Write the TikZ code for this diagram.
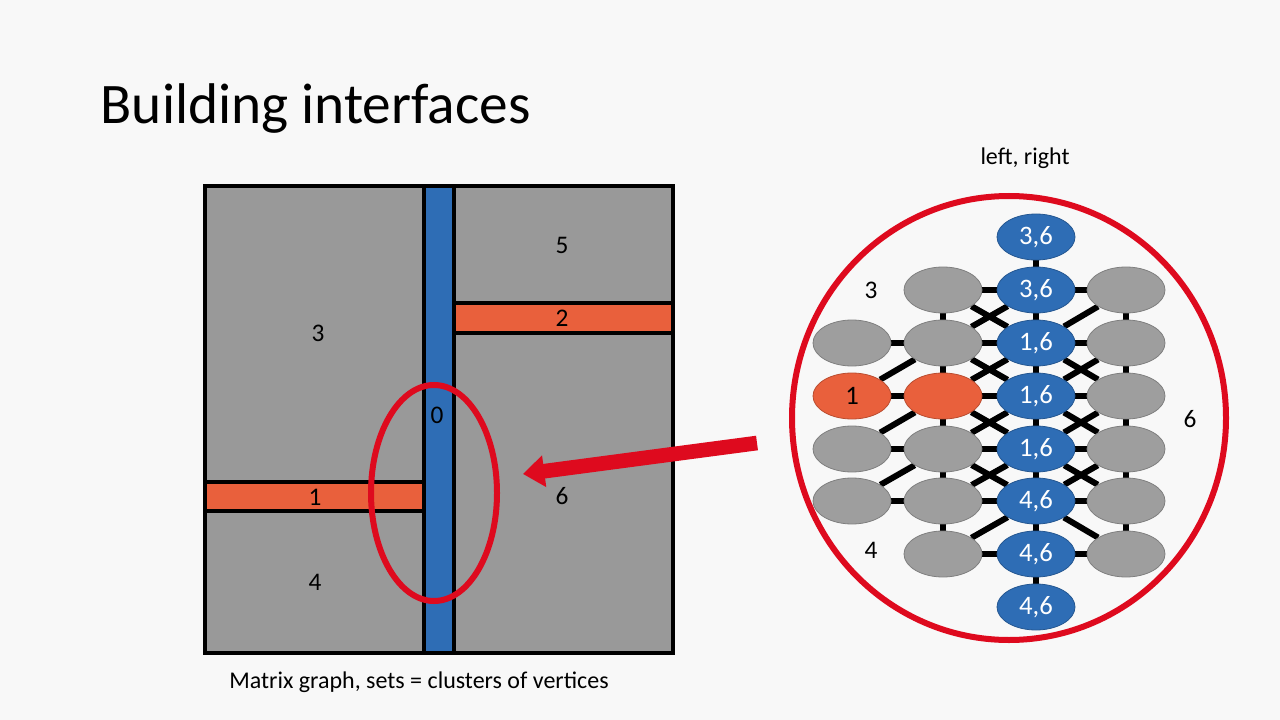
\documentclass[tikz,border=0pt]{standalone}
\usepackage{fontspec}
\setmainfont{Carlito}
\usetikzlibrary{shapes.geometric,arrows.meta,backgrounds}
\definecolor{slidebg}{HTML}{F8F8F8}
\definecolor{regiongray}{HTML}{999999}
\definecolor{nodegray}{HTML}{9E9E9E}
\definecolor{nodeline}{HTML}{7F7F7F}
\definecolor{setblue}{HTML}{2E6DB5}
\definecolor{setorange}{HTML}{E9603C}
\definecolor{markred}{HTML}{DE0A1E}
\pgfdeclarelayer{edges}
\pgfsetlayers{background,edges,main}

\begin{document}
\begin{tikzpicture}[
    x=0.75pt, y=-0.75pt,
    title/.style={font=\fontsize{43}{47}\selectfont, anchor=base west},
    caption/.style={font=\fontsize{18}{21}\selectfont},
    region/.style={font=\fontsize{19}{21}\selectfont},
    vert/.style={ellipse, draw=nodeline, line width=0.6pt, minimum width=58.5pt,
                 minimum height=34.5pt, inner sep=0pt, font=\fontsize{20}{22}\selectfont},
    grayv/.style={vert, fill=nodegray},
    bluev/.style={vert, fill=setblue, draw=setblue!80!black, text=white},
    orangev/.style={vert, fill=setorange, draw=setorange!80!black},
    edge/.style={line width=4.5pt, black},
    wall/.style={draw=black, line width=3pt},
    ring/.style={draw=markred, line width=4.5pt},
    bigarrow/.style={draw=markred, line width=11pt,
                     -{Triangle[length=16pt, width=23pt]}}
]

% --- slide ---
\useasboundingbox (0,0) rectangle (1280,720);
\begin{scope}[on background layer]
  \fill[slidebg] (0,0) rectangle (1280,720);
\end{scope}

\node[title] (title) at (96,124) {Building interfaces};

% --- matrix partition ---
\fill[regiongray] (205,186) rectangle (673,653);
\path[wall, fill=setorange] (454,303) rectangle (673,333);
\path[wall, fill=setorange] (205,482) rectangle (424,511);
\path[wall, fill=setblue] (424,186) rectangle (454,653);
\draw[black, line width=2.5pt] (205,186) rectangle (673,653);

\node[region] (r5) at (562,245) {5};
\node[region] (r2) at (562,318) {2};
\node[region] (r3) at (318,333) {3};
\node[region] (r0) at (437,415) {0};
\node[region] (r1) at (315,497) {1};
\node[region] (r6) at (562,496) {6};
\node[region] (r4) at (315,582) {4};

\draw[ring] (434,493) ellipse [x radius=63, y radius=108];

\node[caption] (caption) at (419,682) {Matrix graph, sets = clusters of vertices};

% --- cluster graph ---
\node[caption] (lr) at (1025,158) {left, right};
\draw[ring] (1009,418) ellipse [x radius=217, y radius=222];

\node[grayv]   (a2) at (852,343) {};
\node[orangev] (a3) at (852,396) {1};
\node[grayv]   (a4) at (852,449) {};
\node[grayv]   (a5) at (852,501) {};

\node[grayv]   (b1) at (943,290) {};
\node[grayv]   (b2) at (943,343) {};
\node[orangev] (b3) at (943,396) {};
\node[grayv]   (b4) at (943,449) {};
\node[grayv]   (b5) at (943,501) {};
\node[grayv]   (b6) at (943,554) {};

\node[bluev] (c0) at (1036,237) {3,6};
\node[bluev] (c1) at (1036,290) {3,6};
\node[bluev] (c2) at (1036,343) {1,6};
\node[bluev] (c3) at (1036,396) {1,6};
\node[bluev] (c4) at (1036,449) {1,6};
\node[bluev] (c5) at (1036,501) {4,6};
\node[bluev] (c6) at (1036,554) {4,6};
\node[bluev] (c7) at (1036,607) {4,6};

\node[grayv] (d1) at (1126,290) {};
\node[grayv] (d2) at (1126,343) {};
\node[grayv] (d3) at (1126,396) {};
\node[grayv] (d4) at (1126,449) {};
\node[grayv] (d5) at (1126,501) {};
\node[grayv] (d6) at (1126,554) {};

\node[region] (g3) at (871,290) {3};
\node[region] (g4) at (871,550) {4};
\node[region] (g6) at (1190,419) {6};

\begin{pgfonlayer}{edges}
  % columns
  \draw[edge] (b1) -- (b2) (b2) -- (b3) (b3) -- (b4) (b4) -- (b5) (b5) -- (b6);
  \draw[edge] (c0) -- (c1) (c1) -- (c2) (c2) -- (c3) (c3) -- (c4)
              (c4) -- (c5) (c5) -- (c6) (c6) -- (c7);
  \draw[edge] (d1) -- (d2) (d2) -- (d3) (d3) -- (d4) (d4) -- (d5) (d5) -- (d6);
  % rows
  \draw[edge] (a2) -- (b2) (a3) -- (b3) (a4) -- (b4) (a5) -- (b5);
  \draw[edge] (b1) -- (c1) (b2) -- (c2) (b3) -- (c3) (b4) -- (c4) (b5) -- (c5) (b6) -- (c6);
  \draw[edge] (c1) -- (d1) (c2) -- (d2) (c3) -- (d3) (c4) -- (d4) (c5) -- (d5) (c6) -- (d6);
  % diagonals
  \draw[edge] (a3) -- (b2) (a4) -- (b3) (a5) -- (b4);
  \draw[edge] (b1) -- (c2) (b2) -- (c1) (b2) -- (c3) (b3) -- (c2) (b3) -- (c4)
              (b4) -- (c3) (b4) -- (c5) (b5) -- (c4) (b6) -- (c5);
  \draw[edge] (c2) -- (d1) (c2) -- (d3) (c3) -- (d2) (c3) -- (d4) (c4) -- (d3)
              (c4) -- (d5) (c5) -- (d4) (c5) -- (d6);
\end{pgfonlayer}

% --- pointer ---
\coordinate (arrowtail) at (757,443);
\coordinate (arrowtip) at (523,474);
\draw[bigarrow] (arrowtail) -- (arrowtip);

\end{tikzpicture}
\end{document}
